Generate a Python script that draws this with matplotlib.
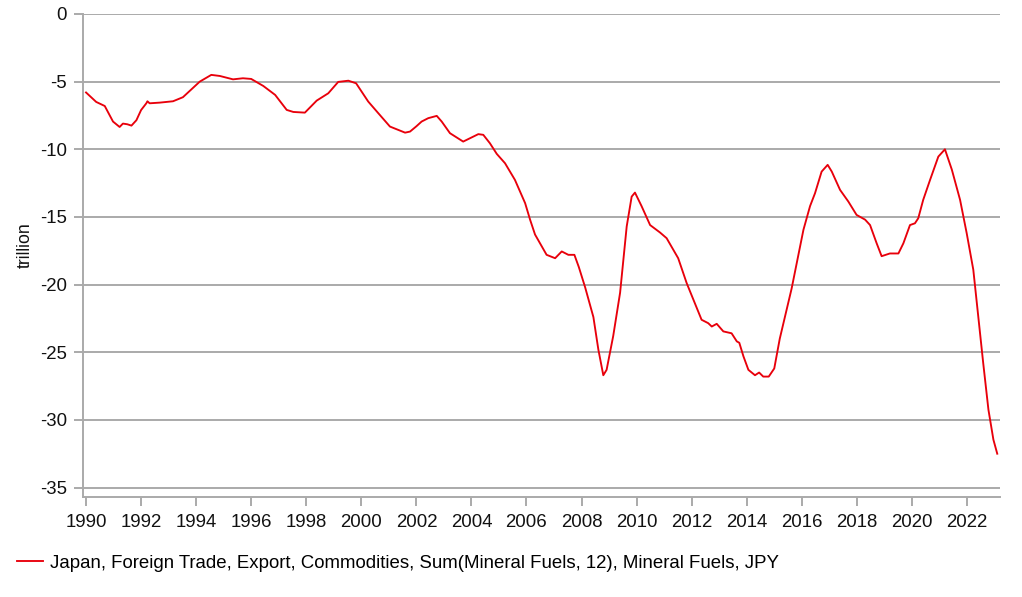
import matplotlib
matplotlib.use("Agg")
import matplotlib.pyplot as plt

plt.rcParams['font.family'] = ['Liberation Sans', 'DejaVu Sans']

# values (decimal year, JPY trillion)
years = [
    1990.00, 1990.37, 1990.68, 1990.98, 1991.22, 1991.34, 1991.50, 1991.65, 1991.83,
    1992.00, 1992.19, 1992.23, 1992.31, 1992.68, 1993.16, 1993.52, 1994.13, 1994.55,
    1994.86, 1995.34, 1995.70, 1996.00, 1996.44, 1996.87, 1997.29, 1997.53, 1997.95,
    1998.38, 1998.80, 1999.16, 1999.53, 1999.81, 2000.25, 2000.62, 2001.04, 2001.59,
    2001.77, 2002.00, 2002.19, 2002.43, 2002.74, 2002.92, 2003.22, 2003.70, 2003.95,
    2004.25, 2004.43, 2004.67, 2004.92, 2005.22, 2005.58, 2005.95, 2006.13, 2006.31,
    2006.73, 2007.04, 2007.28, 2007.52, 2007.74, 2007.90, 2008.13, 2008.43, 2008.61,
    2008.79, 2008.91, 2009.15, 2009.40, 2009.64, 2009.82, 2009.94, 2010.18, 2010.49,
    2010.85, 2011.09, 2011.51, 2011.82, 2012.12, 2012.36, 2012.60, 2012.73, 2012.91,
    2013.15, 2013.45, 2013.64, 2013.73, 2013.88, 2014.06, 2014.30, 2014.45, 2014.60,
    2014.80, 2015.00, 2015.20, 2015.63, 2016.06, 2016.30, 2016.48, 2016.72, 2016.94,
    2017.09, 2017.39, 2017.69, 2017.99, 2018.30, 2018.48, 2018.72, 2018.90, 2019.20,
    2019.51, 2019.69, 2019.93, 2020.11, 2020.23, 2020.41, 2020.66, 2020.96, 2021.20,
    2021.45, 2021.75, 2021.99, 2022.23, 2022.41, 2022.59, 2022.78, 2022.96, 2023.10,
]
values = [
    -5.8, -6.5, -6.8, -7.95, -8.35, -8.1, -8.15, -8.25, -7.85,
    -7.1, -6.6, -6.45, -6.6, -6.55, -6.45, -6.15, -5.0, -4.5,
    -4.58, -4.83, -4.75, -4.8, -5.32, -5.98, -7.09, -7.24, -7.29,
    -6.4, -5.86, -5.02, -4.93, -5.12, -6.47, -7.34, -8.32, -8.77,
    -8.69, -8.3, -7.95, -7.7, -7.53, -7.95, -8.81, -9.43, -9.18,
    -8.88, -8.93, -9.55, -10.34, -11.03, -12.26, -13.98, -15.2, -16.3,
    -17.8, -18.05, -17.55, -17.8, -17.8, -18.7, -20.2, -22.4, -24.8,
    -26.7, -26.3, -23.8, -20.6, -15.7, -13.5, -13.2, -14.2, -15.6,
    -16.15, -16.57, -18.05, -19.9, -21.4, -22.6, -22.85, -23.1, -22.9,
    -23.46, -23.6, -24.2, -24.3, -25.3, -26.3, -26.7, -26.5, -26.8,
    -26.8, -26.2, -24.0, -20.3, -15.95, -14.2, -13.25, -11.65, -11.15,
    -11.65, -13.0, -13.86, -14.85, -15.2, -15.6, -16.95, -17.9, -17.7,
    -17.7, -16.95, -15.6, -15.47, -15.1, -13.74, -12.26, -10.54, -10.0,
    -11.5, -13.74, -16.2, -18.9, -22.35, -25.8, -29.25, -31.46, -32.5,
]
series_label = "Japan, Foreign Trade, Export, Commodities, Sum(Mineral Fuels, 12), Mineral Fuels, JPY"
yticks = [0, -5, -10, -15, -20, -25, -30, -35]
xticks = list(range(1990, 2023, 2))

grey = '#aaaaaa'
fs = 13.4
fig = plt.figure(figsize=(10.22, 5.97), dpi=100)
ax = fig.add_axes([83 / 1022, 1 - 497 / 597, (1000 - 83) / 1022, (497 - 14) / 597])

ax.plot(years, values, color='#e8000b', lw=1.35, label=series_label)

ax.set_xlim(1989.89, 2023.2)
ax.set_ylim(-35.7, 0)
ax.set_yticks(yticks)
ax.set_xticks(xticks)
ax.set_yticklabels([str(v) for v in yticks])
ax.grid(axis='y', color=grey, lw=1.4)
ax.grid(axis='x', visible=False)
for s in ['top', 'right']:
    ax.spines[s].set_visible(False)
for s in ['left', 'bottom']:
    ax.spines[s].set_color(grey)
    ax.spines[s].set_linewidth(1.4)
ax.tick_params(axis='both', colors=grey, width=1.4, length=6.5, labelsize=fs,
               labelcolor='#111111')
ax.tick_params(axis='x', pad=6)
ax.tick_params(axis='y', pad=5)
ax.set_axisbelow(True)

fig.text(25 / 1022, 1 - 245 / 597, 'trillion', rotation=90, ha='center', va='center',
         fontsize=fs * 0.95, color='#111111')

fig.legend(loc='center left', bbox_to_anchor=(17 / 1022, 1 - 563 / 597), frameon=False,
           fontsize=fs, handlelength=1.4, handletextpad=0.4, borderpad=0,
           borderaxespad=0)

fig.savefig('out.png', dpi=100)
